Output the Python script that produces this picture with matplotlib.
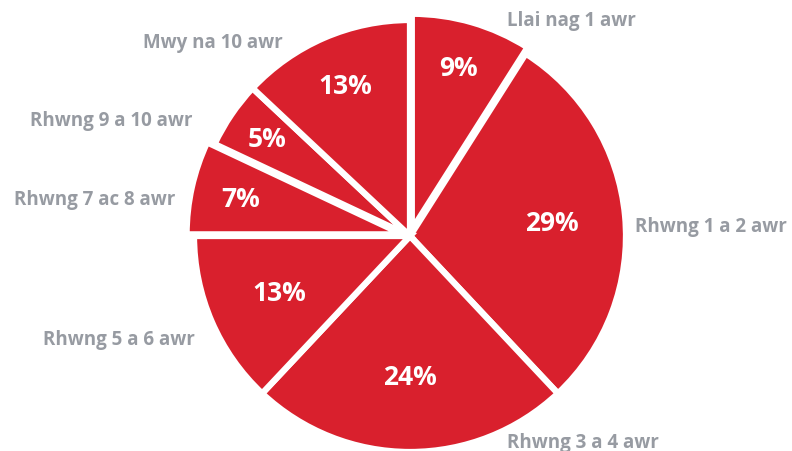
import matplotlib
matplotlib.use("Agg")
import matplotlib.pyplot as plt
import numpy as np

categories = ["Llai nag 1 awr", "Rhwng 1 a 2 awr", "Rhwng 3 a 4 awr",
              "Rhwng 5 a 6 awr", "Rhwng 7 ac 8 awr", "Rhwng 9 a 10 awr",
              "Mwy na 10 awr"]
values = [9, 29, 24, 13, 7, 5, 13]
pct_labels = ["9%", "29%", "24%", "13%", "7%", "5%", "13%"]

# layout (not data)
explode = [0.03, 0, 0, 0, 0.035, 0, 0]
pct_dist = [0.78, 0.66, 0.65, 0.66, 0.77, 0.80, 0.76]
label_pos = [(0.45, 1.0, "left"), (1.04, 0.046, "left"), (0.45, -0.955, "left"),
             (-0.995, -0.475, "right"), (-1.085, 0.171, "right"),
             (-1.005, 0.539, "right"), (-0.59, 0.899, "right")]

RED = "#D9202D"
GREY = "#979BA2"
FONT = ["Open Sans", "DejaVu Sans"]

W, H = 792, 452
fig = plt.figure(figsize=(W / 100, H / 100), dpi=100)
cx, cy, R = 410, 237, 216
ax = fig.add_axes([(cx - R) / W, (H - cy - R) / H, 2 * R / W, 2 * R / H])
wedges, _ = ax.pie(values, startangle=90, counterclock=False, radius=1.0,
                   explode=explode, colors=[RED] * len(values),
                   wedgeprops=dict(edgecolor="white", linewidth=4.5))
ax.set_xlim(-1, 1)
ax.set_ylim(-1, 1)
ax.set_aspect("auto")
ax.axis("off")
for w in wedges:
    w.set_clip_on(False)

for w, p, d in zip(wedges, pct_labels, pct_dist):
    mid = np.deg2rad((w.theta1 + w.theta2) / 2)
    x = w.center[0] + d * np.cos(mid)
    y = w.center[1] + d * np.sin(mid)
    ax.text(x, y, p, ha="center", va="center", color="white",
            fontsize=19, fontweight="bold", family=FONT)

for name, (x, y, ha) in zip(categories, label_pos):
    ax.text(x, y, name, ha=ha, va="center", color=GREY, fontsize=13.5,
            fontweight="bold", family=FONT, clip_on=False)

fig.savefig("out.png", dpi=100, facecolor="white")
